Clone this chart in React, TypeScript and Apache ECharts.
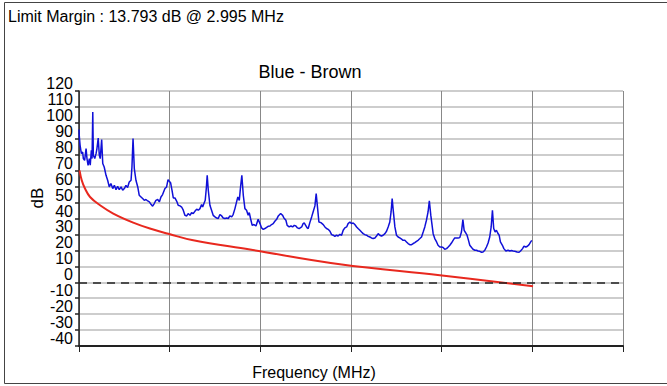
import React, { useEffect, useRef } from "react";
import * as echarts from "echarts";

// Blue - Brown measured trace (frequency in MHz, value in dB)
const blueFreq: number[] = [
  0, 0.2, 0.6, 1.3, 2.0, 2.4, 3.1, 3.9, 4.4, 5.0, 5.7, 6.2, 6.8, 7.2, 7.6, 7.9, 8.7, 9.4, 9.9, 10.6,
  11.2, 11.7, 12.5, 13.1, 13.9, 14.9, 15.8, 16.7, 17.6, 18.6, 19.5, 20.4, 21.3, 22.2, 23.2, 24.1, 25.0, 25.9, 26.8, 27.7,
  28.7, 29.2, 29.8, 30.5, 31.4, 32.4, 33.2, 34.2, 35.1, 36.0, 36.9, 37.9, 38.8, 39.7, 40.6, 41.5, 42.4, 43.4, 44.3, 45.2,
  46.1, 47.4, 48.3, 49.1, 49.8, 50.5, 51.3, 52.0, 52.9, 53.9, 54.7, 55.7, 56.6, 57.5, 58.4, 59.4, 60.2, 61.2, 62.1, 63.0,
  63.9, 64.9, 65.8, 66.7, 67.6, 68.2, 68.9, 69.6, 70.2, 70.7, 71.3, 72.2, 73.1, 74.0, 75.0, 75.9, 76.8, 77.7, 78.7, 79.5,
  80.5, 81.4, 82.3, 83.2, 84.2, 85.0, 86.0, 86.9, 87.6, 88.4, 89.1, 89.8, 90.6, 91.5, 92.4, 93.3, 93.9, 94.6, 95.5, 96.5,
  97.6, 98.8, 99.8, 100.7, 101.6, 102.5, 103.5, 104.3, 105.3, 106.2, 107.1, 108.0, 109.0, 109.9, 111.2, 112.3, 113.0, 114.1, 114.8, 115.9,
  116.9, 117.8, 118.7, 119.6, 120.5, 121.4,
  122.8, 123.6, 124.2, 125.0, 125.8, 126.4, 127.3, 128.3, 129.1, 130.1, 130.8, 131.6, 132.3, 133.4, 134.7, 135.6, 136.5, 137.4, 138.4, 139.3,
  140.2, 141.1, 142.0, 142.9, 143.9, 144.8, 145.7, 146.6, 147.6, 148.4, 149.4, 150.3, 151.2, 152.1, 153.1, 153.9, 154.9, 155.8, 156.7, 157.6,
  158.6, 159.5, 160.4, 161.3, 162.2, 163.2, 164.1, 165.0, 165.9, 166.8, 167.7, 168.7, 169.6, 170.5, 171.4, 172.1, 172.7, 173.2, 174.2, 175.1,
  176.0, 176.9, 177.9, 178.7, 179.7, 180.6, 181.5, 182.4, 183.4, 184.3, 185.2, 186.1, 187.0, 188.0, 188.9, 189.8, 190.7, 191.6, 192.5, 193.2,
  194.0,
  195.3, 196.2, 197.2, 198.0, 199.0, 199.9, 200.8, 201.7, 202.7, 203.6, 204.5, 205.4, 206.3, 207.2, 208.2, 209.1, 210.0, 210.9, 211.7, 212.4,
  213.3, 214.0, 214.8, 215.5, 216.5, 217.3, 218.3, 219.2, 220.1, 221.0, 222.0, 222.8, 223.8, 224.7, 225.6, 226.5, 227.3, 228.0, 228.7, 229.5,
  230.2, 230.9, 231.7, 232.4, 233.5, 234.3, 235.4, 236.6, 237.6, 238.5, 239.4, 240.3, 241.6, 242.7, 243.5, 244.6, 245.4, 246.4, 247.3, 248.2,
  249.1, 249.7,
];

const blueDb: number[] = [
  95.8, 91.1, 85.9, 80.7, 81.7, 77.6, 76.5, 83.9, 77.6, 73.4, 77.6, 73.4, 82.8, 77.6, 106.8, 79.7, 77.6, 80.7, 83.9, 90.5,
  79.7, 77.6, 89.5, 74.5, 72.3, 67.1, 64.0, 59.8, 61.9, 58.8, 60.8, 58.1, 60.2, 58.1, 59.8, 57.7, 58.8, 60.8, 59.4, 62.9,
  64.0, 72.3, 90.1, 71.3, 64.0, 59.8, 54.6, 53.5, 52.5, 51.4, 51.9, 51.0, 50.4, 48.9, 47.7, 49.4, 51.4, 51.9, 50.4, 53.5,
  55.0, 58.8, 59.8, 64.4, 63.4, 62.5, 57.7, 52.9, 52.9, 50.8, 48.3, 47.9, 47.2, 45.2, 42.0, 41.6, 43.1, 42.0, 43.7, 43.1,
  44.5, 45.8, 45.2, 46.2, 48.7, 47.2, 49.4, 51.4, 58.8, 67.1, 57.7, 48.3, 45.2, 42.0, 41.0, 40.3, 40.0, 42.5, 41.6, 40.3,
  40.0, 40.3, 40.0, 41.6, 41.0, 42.5, 46.2, 50.4, 53.5, 51.4, 59.8, 67.1, 54.6, 46.2, 45.2, 42.0, 43.7, 40.0, 35.7, 36.2,
  35.3, 39.5, 36.8, 34.1, 33.2, 33.7, 34.5, 35.1, 35.3, 36.2, 36.8, 38.3, 39.5, 41.6, 43.1, 42.0, 40.3, 38.9, 35.7, 34.7,
  35.3, 34.7, 35.7, 35.3, 34.1, 33.7,
  34.7, 36.8, 37.2, 35.7, 34.1, 33.7, 37.4, 41.0, 44.1, 47.9, 55.6, 46.2, 37.8, 37.4, 36.2, 34.7, 33.7, 33.2, 32.0, 29.9,
  29.5, 28.8, 29.5, 29.0, 30.1, 29.5, 32.6, 34.1, 34.7, 36.8, 37.8, 36.8, 37.2, 36.2, 34.7, 33.7, 32.6, 31.5, 30.5, 29.9,
  29.5, 28.8, 28.4, 27.8, 27.4, 27.8, 29.0, 30.5, 29.5, 29.0, 29.5, 30.5, 32.0, 34.7, 37.8, 44.1, 52.5, 46.2, 34.7, 29.5,
  28.4, 27.8, 27.0, 26.3, 26.3, 25.3, 24.3, 23.6, 23.6, 24.3, 24.9, 25.7, 26.3, 27.4, 28.4, 31.5, 34.7, 38.9, 44.1, 51.1,
  42.1,
  30.5, 27.4, 25.3, 23.2, 22.1, 22.1, 21.8, 20.7, 21.1, 22.1, 23.2, 24.6, 26.3, 27.8, 27.8, 27.8, 28.0, 31.5, 39.3, 32.6,
  30.9, 29.5, 26.3, 23.2, 21.8, 20.7, 20.1, 20.1, 19.6, 19.4, 18.8, 19.0, 20.1, 22.1, 24.6, 28.4, 34.7, 45.2, 33.7, 31.5,
  32.6, 30.9, 29.5, 25.3, 23.2, 21.1, 19.6, 20.1, 19.6, 19.9, 19.6, 19.4, 19.0, 18.8, 19.6, 21.1, 22.6, 22.1, 22.6, 23.6,
  25.3, 26.3,
];

// Limit line (red)
const limitFreq: number[] = [0.3, 1.5, 3.3, 6.1, 11.6, 18.9, 29.9, 39.1, 50.2, 63.0, 94.3, 143.9, 199.0, 250.4];
const limitDb: number[] = [70.2, 64.0, 58.8, 53.5, 48.3, 43.1, 37.4, 33.7, 30.1, 26.3, 20.5, 11.3, 4.4, -2.5];

// Axis settings
const xMin = 0;
const xMax = 300;
const xStep = 50;
const yMin = -40;
const yMax = 120;
const yStep = 10;
const marginLine = 0;

const chartTitle = "Blue - Brown";
const xTitle = "Frequency (MHz)";
const yTitle = "dB";
const infoText = "Limit Margin : 13.793 dB @ 2.995 MHz";

const FONT = "'Liberation Sans', Arial, sans-serif";

export default function App() {
  const ref = useRef<HTMLDivElement | null>(null);

  useEffect(() => {
    if (!ref.current) return;
    const chart = echarts.init(ref.current, undefined, { renderer: "svg" });

    const n = Math.min(blueFreq.length, blueDb.length);
    const blueData: number[][] = [];
    for (let i = 0; i < n; i++) blueData.push([blueFreq[i], blueDb[i]]);
    const limitData = limitFreq.map((f, i) => [f, limitDb[i]]);

    chart.setOption({
      animation: false,
      backgroundColor: "#ffffff",
      grid: { left: 79, top: 91, right: 44, bottom: 40, containLabel: false },
      xAxis: {
        type: "value",
        min: xMin,
        max: xMax,
        interval: xStep,
        axisLine: { show: true, onZero: false, lineStyle: { color: "#222", width: 2 } },
        axisTick: { show: true, length: 6, lineStyle: { color: "#222", width: 1 } },
        axisLabel: { show: false },
        splitLine: { show: true, lineStyle: { color: "#888", width: 1 } },
      },
      yAxis: {
        type: "value",
        min: yMin,
        max: yMax,
        interval: yStep,
        axisLine: { show: true, onZero: false, lineStyle: { color: "#222", width: 1.5 } },
        axisTick: { show: true, length: 4, lineStyle: { color: "#222", width: 1.5 } },
        axisLabel: {
          color: "#000",
          fontSize: 16,
          fontFamily: FONT,
          margin: 6,
          verticalAlign: "bottom",
          lineHeight: 15,
        },
        splitLine: { show: true, lineStyle: { color: "#bdbdbd", width: 1.5 } },
      },
      series: [
        {
          type: "line",
          data: limitData,
          smooth: 0.4,
          showSymbol: false,
          lineStyle: { color: "#e8281e", width: 2 },
          z: 3,
        },
        {
          type: "line",
          data: blueData,
          showSymbol: false,
          lineStyle: { color: "#1010d8", width: 1.5 },
          z: 4,
          markLine: {
            silent: true,
            symbol: "none",
            label: { show: false },
            lineStyle: { color: "#222", type: [8, 6], width: 1.5 },
            data: [{ yAxis: marginLine }],
          },
        },
      ],
      graphic: [
        {
          type: "rect",
          silent: true,
          z: -10,
          shape: { x: 4.5, y: 2.5, width: 700, height: 381 },
          style: { fill: "none", stroke: "#444", lineWidth: 1 },
        },
        {
          type: "text",
          left: 8,
          top: 8,
          style: { text: infoText, fontSize: 16, fontFamily: FONT, fill: "#000" },
        },
        {
          type: "text",
          x: 310,
          y: 72,
          style: {
            text: chartTitle,
            fontSize: 18,
            fontFamily: FONT,
            fill: "#000",
            align: "center",
            verticalAlign: "middle",
          },
        },
        {
          type: "text",
          x: 314,
          y: 372,
          style: {
            text: xTitle,
            fontSize: 16,
            fontFamily: FONT,
            fill: "#000",
            align: "center",
            verticalAlign: "middle",
          },
        },
        {
          type: "text",
          x: 37,
          y: 198,
          rotation: Math.PI / 2,
          style: {
            text: yTitle,
            fontSize: 17,
            fontFamily: FONT,
            fill: "#000",
            align: "center",
            verticalAlign: "middle",
          },
        },
      ],
    });

    return () => chart.dispose();
  }, []);

  return (
    <div
      ref={ref}
      style={{ position: "absolute", left: 0, top: 0, width: 667, height: 386, background: "#fff" }}
    />
  );
}
